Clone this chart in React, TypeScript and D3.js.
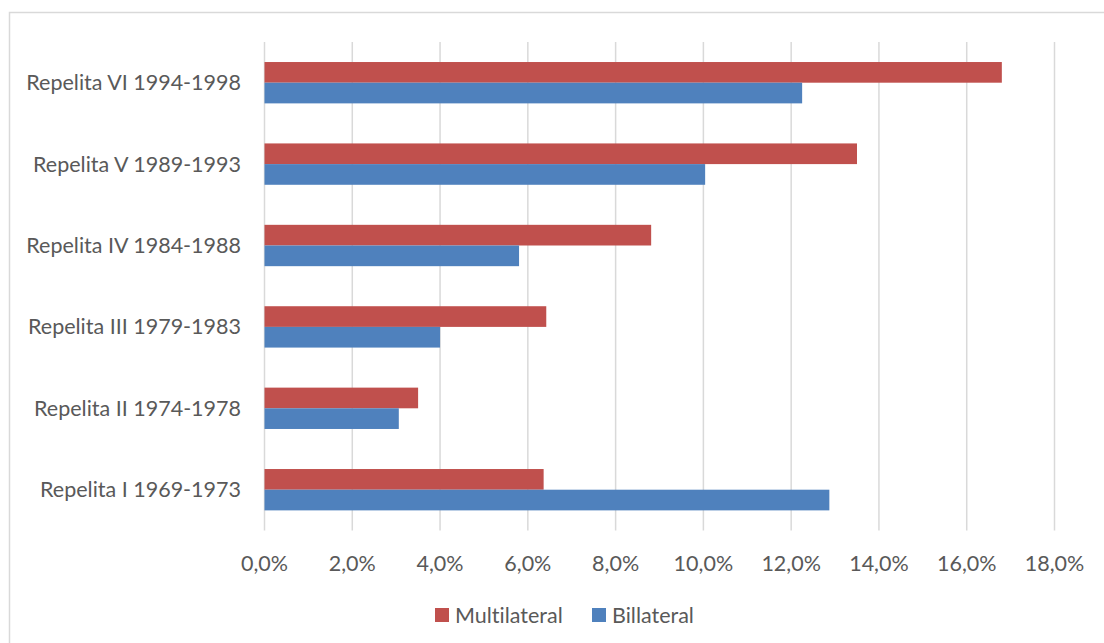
import React from "react";
import * as d3 from "d3";

const categories = [
  "Repelita I 1969-1973",
  "Repelita II 1974-1978",
  "Repelita III 1979-1983",
  "Repelita IV 1984-1988",
  "Repelita V 1989-1993",
  "Repelita VI 1994-1998",
];
const seriesNames = ["Multilateral", "Billateral"];
const multilateral = [6.36, 3.5, 6.42, 8.81, 13.5, 16.8];
const billateral = [12.87, 3.06, 4.0, 5.8, 10.04, 12.25];
const ticks = [0, 2, 4, 6, 8, 10, 12, 14, 16, 18];
const colors = ["#C0504D", "#4F81BD"];

const W = 1104;
const H = 643;
const FONT = "Lato, 'Open Sans', sans-serif";
const FS = 21.5;

export default function App() {
  const x = d3.scaleLinear().domain([0, 18]).range([264.5, 1054.5]);
  const y = d3
    .scaleBand<string>()
    .domain([...categories].reverse())
    .range([42, 530.4])
    .padding(0);
  const bw = y.bandwidth();
  const inner = d3
    .scaleBand<string>()
    .domain(seriesNames)
    .range([bw * 0.246, bw * 0.754])
    .padding(0);
  const values = [multilateral, billateral];
  const fmt = (v: number) => v.toFixed(1).replace(".", ",") + "%";

  return (
    <svg
      width={W}
      height={H}
      style={{
        position: "absolute",
        left: 0,
        top: 0,
        background: "#fff",
        fontVariantLigatures: "none",
      }}
      fontFamily={FONT}
    >
      <rect x={9.5} y={12.5} width={1200} height={800} fill="#fff" stroke="#D9D9D9" strokeWidth={1.5} />
      {ticks.map((t) => (
        <line
          key={t}
          x1={x(t)}
          x2={x(t)}
          y1={42}
          y2={530.4}
          stroke="#D9D9D9"
          strokeWidth={1.5}
        />
      ))}
      {categories.map((c, i) =>
        seriesNames.map((s, j) => (
          <rect
            key={c + s}
            x={x(0)}
            y={(y(c) as number) + (inner(s) as number)}
            width={x(values[j][i]) - x(0)}
            height={inner.bandwidth()}
            fill={colors[j]}
          />
        ))
      )}
      {categories.map((c) => (
        <text
          key={c}
          x={241}
          y={(y(c) as number) + bw / 2}
          dy="0.35em"
          textAnchor="end"
          fontSize={FS}
          fill="#595959"
        >
          {c}
        </text>
      ))}
      {ticks.map((t) => (
        <text
          key={t}
          x={x(t)}
          y={563}
          dy="0.35em"
          textAnchor="middle"
          fontSize={FS}
          fill="#595959"
        >
          {fmt(t)}
        </text>
      ))}
      <g>
        <rect x={435} y={608} width={14} height={14} fill={colors[0]} />
        <text x={455} y={615} dy="0.35em" fontSize={FS} fill="#595959">
          {seriesNames[0]}
        </text>
        <rect x={592} y={608} width={14} height={14} fill={colors[1]} />
        <text x={612} y={615} dy="0.35em" fontSize={FS} fill="#595959">
          {seriesNames[1]}
        </text>
      </g>
    </svg>
  );
}
